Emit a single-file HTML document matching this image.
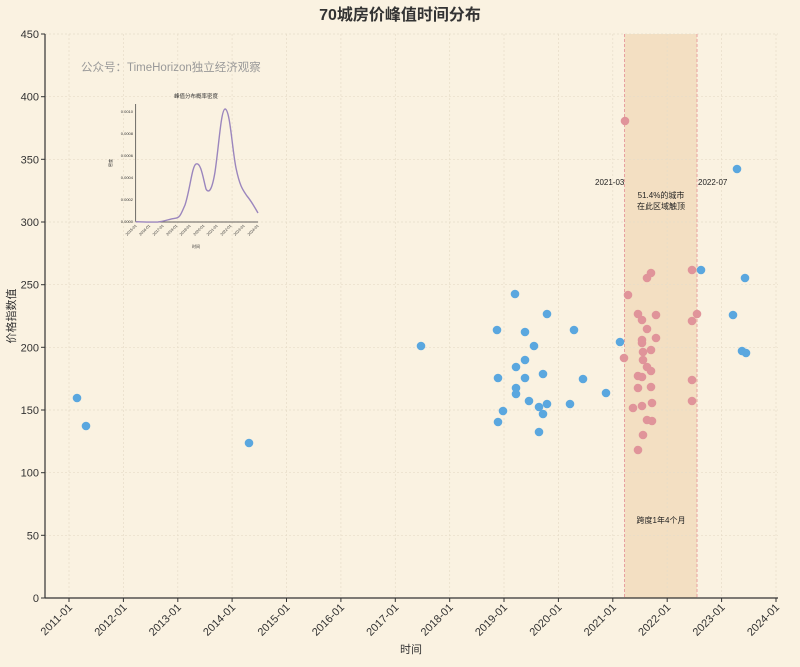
<!DOCTYPE html>
<html><head><meta charset="utf-8"><style>
body{margin:0;background:#faf2e1;}
text{font-family:"Liberation Sans","Noto Sans CJK SC",sans-serif;}
</style></head><body>
<svg width="800" height="662" xmlns="http://www.w3.org/2000/svg">
<rect width="800" height="662" fill="#faf2e1"/>
<text x="400" y="20" font-size="16" font-weight="bold" text-anchor="middle" fill="#333">70城房价峰值时间分布</text>
<rect x="624.5" y="34" width="72.5" height="564" fill="#f3dfc2"/>
<g stroke="#e6dcc8" stroke-width="0.7" stroke-dasharray="2,2">
<line x1="45" x2="778" y1="34" y2="34"/><line x1="45" x2="778" y1="96.7" y2="96.7"/><line x1="45" x2="778" y1="159.3" y2="159.3"/><line x1="45" x2="778" y1="222" y2="222"/><line x1="45" x2="778" y1="284.7" y2="284.7"/><line x1="45" x2="778" y1="347.3" y2="347.3"/><line x1="45" x2="778" y1="410" y2="410"/><line x1="45" x2="778" y1="472.7" y2="472.7"/><line x1="45" x2="778" y1="535.3" y2="535.3"/>
<line x1="69" x2="69" y1="34" y2="598"/><line x1="123.4" x2="123.4" y1="34" y2="598"/><line x1="177.8" x2="177.8" y1="34" y2="598"/><line x1="232.1" x2="232.1" y1="34" y2="598"/><line x1="286.5" x2="286.5" y1="34" y2="598"/><line x1="340.9" x2="340.9" y1="34" y2="598"/><line x1="395.3" x2="395.3" y1="34" y2="598"/><line x1="449.7" x2="449.7" y1="34" y2="598"/><line x1="504" x2="504" y1="34" y2="598"/><line x1="558.4" x2="558.4" y1="34" y2="598"/><line x1="612.8" x2="612.8" y1="34" y2="598"/><line x1="667.2" x2="667.2" y1="34" y2="598"/><line x1="721.6" x2="721.6" y1="34" y2="598"/><line x1="776" x2="776" y1="34" y2="598"/>
</g>
<g stroke="#e8a0a0" stroke-width="1" stroke-dasharray="3,2"><line x1="624.5" x2="624.5" y1="34" y2="598"/><line x1="697" x2="697" y1="34" y2="598"/></g>
<g stroke="#333" stroke-width="1.2"><line x1="45" x2="45" y1="34" y2="598"/><line x1="45" x2="778" y1="598" y2="598"/></g>
<g stroke="#333" stroke-width="1">
<line x1="41" x2="45" y1="34" y2="34"/><line x1="41" x2="45" y1="96.7" y2="96.7"/><line x1="41" x2="45" y1="159.3" y2="159.3"/><line x1="41" x2="45" y1="222" y2="222"/><line x1="41" x2="45" y1="284.7" y2="284.7"/><line x1="41" x2="45" y1="347.3" y2="347.3"/><line x1="41" x2="45" y1="410" y2="410"/><line x1="41" x2="45" y1="472.7" y2="472.7"/><line x1="41" x2="45" y1="535.3" y2="535.3"/><line x1="41" x2="45" y1="598" y2="598"/>
<line x1="69" x2="69" y1="598" y2="602"/><line x1="123.4" x2="123.4" y1="598" y2="602"/><line x1="177.8" x2="177.8" y1="598" y2="602"/><line x1="232.1" x2="232.1" y1="598" y2="602"/><line x1="286.5" x2="286.5" y1="598" y2="602"/><line x1="340.9" x2="340.9" y1="598" y2="602"/><line x1="395.3" x2="395.3" y1="598" y2="602"/><line x1="449.7" x2="449.7" y1="598" y2="602"/><line x1="504" x2="504" y1="598" y2="602"/><line x1="558.4" x2="558.4" y1="598" y2="602"/><line x1="612.8" x2="612.8" y1="598" y2="602"/><line x1="667.2" x2="667.2" y1="598" y2="602"/><line x1="721.6" x2="721.6" y1="598" y2="602"/><line x1="776" x2="776" y1="598" y2="602"/>
</g>
<g font-size="11" fill="#333" text-anchor="end">
<text x="39" y="38">450</text><text x="39" y="100.7">400</text><text x="39" y="163.3">350</text><text x="39" y="226">300</text><text x="39" y="288.7">250</text><text x="39" y="351.3">200</text><text x="39" y="414">150</text><text x="39" y="476.7">100</text><text x="39" y="539.3">50</text><text x="39" y="602">0</text>
</g>
<g font-size="11" fill="#333" text-anchor="end">
<text transform="translate(73,608) rotate(-45)">2011-01</text><text transform="translate(127.4,608) rotate(-45)">2012-01</text><text transform="translate(181.8,608) rotate(-45)">2013-01</text><text transform="translate(236.1,608) rotate(-45)">2014-01</text><text transform="translate(290.5,608) rotate(-45)">2015-01</text><text transform="translate(344.9,608) rotate(-45)">2016-01</text><text transform="translate(399.3,608) rotate(-45)">2017-01</text><text transform="translate(453.7,608) rotate(-45)">2018-01</text><text transform="translate(508,608) rotate(-45)">2019-01</text><text transform="translate(562.4,608) rotate(-45)">2020-01</text><text transform="translate(616.8,608) rotate(-45)">2021-01</text><text transform="translate(671.2,608) rotate(-45)">2022-01</text><text transform="translate(725.6,608) rotate(-45)">2023-01</text><text transform="translate(780,608) rotate(-45)">2024-01</text>
</g>
<text x="411" y="653" font-size="11" text-anchor="middle" fill="#333">时间</text>
<text transform="translate(15,316) rotate(-90)" font-size="11" text-anchor="middle" fill="#333">价格指数值</text>
<text x="81" y="71" font-size="11.5" fill="#999">公众号：TimeHorizon独立经济观察</text>
<g fill="#5aa7df">
<circle cx="77" cy="398" r="4.3"/><circle cx="86" cy="426" r="4.3"/><circle cx="249" cy="443" r="4.3"/><circle cx="421" cy="346" r="4.3"/><circle cx="497" cy="330" r="4.3"/><circle cx="498" cy="378" r="4.3"/><circle cx="498" cy="422" r="4.3"/><circle cx="503" cy="411" r="4.3"/><circle cx="515" cy="294" r="4.3"/><circle cx="516" cy="367" r="4.3"/><circle cx="516" cy="388" r="4.3"/><circle cx="516" cy="394" r="4.3"/><circle cx="525" cy="332" r="4.3"/><circle cx="525" cy="360" r="4.3"/><circle cx="525" cy="378" r="4.3"/><circle cx="529" cy="401" r="4.3"/><circle cx="534" cy="346" r="4.3"/><circle cx="539" cy="407" r="4.3"/><circle cx="539" cy="432" r="4.3"/><circle cx="543" cy="374" r="4.3"/><circle cx="543" cy="414" r="4.3"/><circle cx="547" cy="314" r="4.3"/><circle cx="547" cy="404" r="4.3"/><circle cx="570" cy="404" r="4.3"/><circle cx="574" cy="330" r="4.3"/><circle cx="583" cy="379" r="4.3"/><circle cx="606" cy="393" r="4.3"/><circle cx="620" cy="342" r="4.3"/><circle cx="701" cy="270" r="4.3"/><circle cx="733" cy="315" r="4.3"/><circle cx="737" cy="169" r="4.3"/><circle cx="742" cy="351" r="4.3"/><circle cx="745" cy="278" r="4.3"/><circle cx="746" cy="353" r="4.3"/>
</g>
<g fill="#e0949a">
<circle cx="625" cy="121" r="4.3"/><circle cx="624" cy="358" r="4.3"/><circle cx="628" cy="295" r="4.3"/><circle cx="633" cy="408" r="4.3"/><circle cx="638" cy="450" r="4.3"/><circle cx="638" cy="314" r="4.3"/><circle cx="638" cy="376" r="4.3"/><circle cx="638" cy="388" r="4.3"/><circle cx="642" cy="377" r="4.3"/><circle cx="642" cy="320" r="4.3"/><circle cx="642" cy="340" r="4.3"/><circle cx="642" cy="343" r="4.3"/><circle cx="643" cy="352" r="4.3"/><circle cx="643" cy="360" r="4.3"/><circle cx="642" cy="406" r="4.3"/><circle cx="643" cy="435" r="4.3"/><circle cx="647" cy="278" r="4.3"/><circle cx="647" cy="329" r="4.3"/><circle cx="647" cy="367" r="4.3"/><circle cx="647" cy="420" r="4.3"/><circle cx="651" cy="273" r="4.3"/><circle cx="651" cy="350" r="4.3"/><circle cx="651" cy="371" r="4.3"/><circle cx="651" cy="387" r="4.3"/><circle cx="652" cy="403" r="4.3"/><circle cx="652" cy="421" r="4.3"/><circle cx="656" cy="315" r="4.3"/><circle cx="656" cy="338" r="4.3"/><circle cx="692" cy="270" r="4.3"/><circle cx="692" cy="321" r="4.3"/><circle cx="692" cy="380" r="4.3"/><circle cx="692" cy="401" r="4.3"/><circle cx="697" cy="314" r="4.3"/>
</g>
<g font-size="8" fill="#222">
<text x="595" y="185">2021-03</text><text x="698" y="185">2022-07</text>
<text x="661" y="198" text-anchor="middle">51.4%的城市</text><text x="661" y="209" text-anchor="middle">在此区域触顶</text>
<text x="661" y="523" text-anchor="middle">跨度1年4个月</text>
</g>
<!-- inset -->
<g>
<text x="196" y="98" font-size="5.5" text-anchor="middle" fill="#333">峰值分布概率密度</text>
<line x1="135.7" x2="135.7" y1="104" y2="222" stroke="#333" stroke-width="0.7"/>
<line x1="135.7" x2="258" y1="222" y2="222" stroke="#333" stroke-width="0.7"/>
<g font-size="4" fill="#333" text-anchor="end">
<text x="133" y="223">0.0000</text><text x="133" y="201">0.0002</text><text x="133" y="179">0.0004</text><text x="133" y="157">0.0006</text><text x="133" y="135">0.0008</text><text x="133" y="113">0.0010</text>
</g>
<g font-size="3.8" fill="#333" text-anchor="end">
<text transform="translate(137,226) rotate(-45)">2015-01</text><text transform="translate(150.5,226) rotate(-45)">2016-01</text><text transform="translate(164,226) rotate(-45)">2017-01</text><text transform="translate(177.6,226) rotate(-45)">2018-01</text><text transform="translate(191,226) rotate(-45)">2019-01</text><text transform="translate(204.7,226) rotate(-45)">2020-01</text><text transform="translate(218,226) rotate(-45)">2021-01</text><text transform="translate(231.8,226) rotate(-45)">2022-01</text><text transform="translate(245,226) rotate(-45)">2023-01</text><text transform="translate(259,226) rotate(-45)">2024-01</text>
</g>
<text x="196" y="248" font-size="4" text-anchor="middle" fill="#333">时间</text>
<text transform="translate(112,163) rotate(-90)" font-size="4" text-anchor="middle" fill="#333">密度</text>
<path d="M135.7,221.7 C145,222 152,222.3 158,222 C165,221 170,219 175,218.3 C180,218 181,214 185,205 C190,190 192,166 196,164 C201,162 203,178 206,189 C209,194 212,190 215,172 C219,145 221,110 225,109 C230,109 232,148 236,168 C240,187 243,190 247,196 C252,202 255,208 258,213" fill="none" stroke="#9b86bd" stroke-width="1.4"/>
</g>
</svg>
</body></html>
